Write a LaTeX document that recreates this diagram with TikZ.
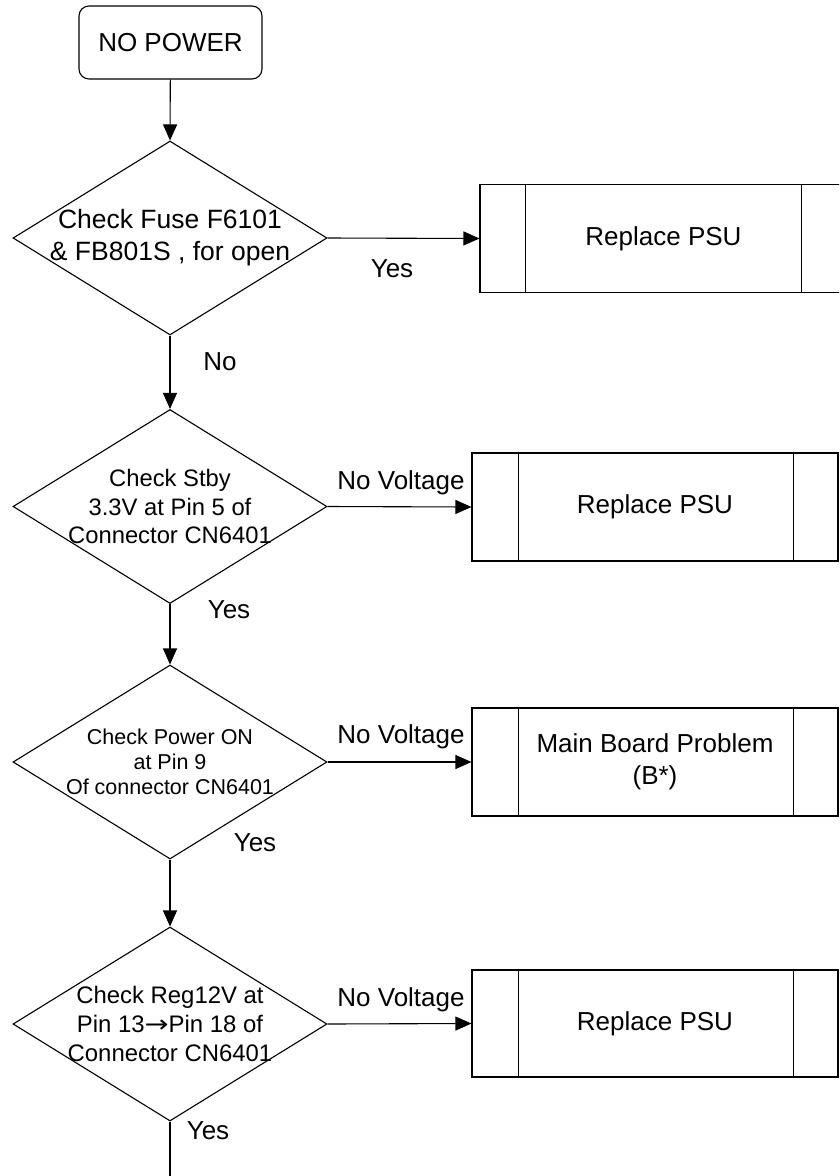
\documentclass[tikz,border=0pt]{standalone}
\usepackage{fontspec}
\setmainfont{Liberation Sans}
\newfontfamily\arrowfont{DejaVu Sans}
\usetikzlibrary{shapes.geometric,arrows.meta}
\begin{document}
\begin{tikzpicture}[x=1pt,y=-1pt,
  line width=1.1pt,
  startbox/.style={draw,rounded corners=10pt,minimum width=183pt,minimum height=73pt,inner sep=0pt,font=\fontsize{26}{30}\selectfont},
  dia/.style={draw,shape=diamond,minimum width=314pt,minimum height=194pt,inner sep=0pt},
  dtext/.style={align=center,inner sep=0pt},
  procbox/.style={draw,minimum height=108pt,inner sep=0pt,align=center,font=\fontsize{26}{32}\selectfont},
  lbl/.style={anchor=base,inner sep=0pt,font=\fontsize{26}{30}\selectfont},
  arr/.style={-{Triangle[length=16pt,width=14pt]}}
]
\useasboundingbox (0,0) rectangle (839,1176);
\clip (0,0) rectangle (839,1176);

% start
\node[startbox] (start) at (170.5,42.5) {NO POWER};

% diamonds
\node[dia] (d1) at (170,238) {};
\node[dtext,font=\fontsize{26.5}{32}\selectfont] (t1) at (d1.center) {Check Fuse F6101\\\& FB801S , for open};
\node[dia] (d2) at (170,506.5) {};
\node[dtext,font=\fontsize{23.8}{28.5}\selectfont] (t2) at (d2.center) {Check Stby\\3.3V at Pin 5 of\\Connector CN6401};
\node[dia] (d3) at (170,762) {};
\node[dtext,font=\fontsize{21.5}{25}\selectfont] (t3) at (d3.center) {Check Power ON\\at Pin 9\\Of connector CN6401};
\node[dia] (d4) at (170,1024) {};
\node[dtext,font=\fontsize{23.9}{29}\selectfont] (t4) at (d4.center) {Check Reg12V at\\Pin 13{\arrowfont\fontsize{23.9}{29}\selectfont\scalebox{1.2}[1]{→}}Pin 18 of\\Connector CN6401};

% process boxes
\node[procbox,minimum width=367pt] (b1) at (663.5,238.5) {Replace PSU};
\draw ([xshift=46pt]b1.north west) -- ([xshift=46pt]b1.south west);
\draw ([xshift=-46pt]b1.north east) -- ([xshift=-46pt]b1.south east);

\node[procbox,minimum width=366pt] (b2) at (655,507) {Replace PSU};
\draw ([xshift=47pt]b2.north west) -- ([xshift=47pt]b2.south west);
\draw ([xshift=-45pt]b2.north east) -- ([xshift=-45pt]b2.south east);

\node[procbox,minimum width=366pt] (b3) at (655,762) {Main Board Problem\\(B*)};
\draw ([xshift=47pt]b3.north west) -- ([xshift=47pt]b3.south west);
\draw ([xshift=-45pt]b3.north east) -- ([xshift=-45pt]b3.south east);

\node[procbox,minimum width=366pt,minimum height=107pt] (b4) at (655,1023.5) {Replace PSU};
\draw ([xshift=47pt]b4.north west) -- ([xshift=47pt]b4.south west);
\draw ([xshift=-45pt]b4.north east) -- ([xshift=-45pt]b4.south east);

% connectors
\draw[arr] (start) -- (d1.north);
\draw[arr] (d1.south) -- (d2.north);
\draw[arr] (d2.south) -- (d3.north);
\draw[arr] (d3.south) -- (d4.north);
\coordinate (end) at (170,1176);
\draw (d4.south) -- (end);

\draw[arr] (d1.east) -- (b1.west);
\draw[arr] (d2.east) -- (b2.west);
\draw[arr] (d3.east) -- (b3.west);
\draw[arr] (d4.east) -- (b4.west);

% labels
\node[lbl] (y1) at (392,277) {Yes};
\node[lbl] (n1) at (220,370) {No};
\node[lbl] (v2) at (401,489) {No Voltage};
\node[lbl] (y2) at (229,618) {Yes};
\node[lbl] (v3) at (401,743) {No Voltage};
\node[lbl] (y3) at (255,851) {Yes};
\node[lbl] (v4) at (401,1006) {No Voltage};
\node[lbl] (y4) at (208,1139) {Yes};
\end{tikzpicture}
\end{document}
